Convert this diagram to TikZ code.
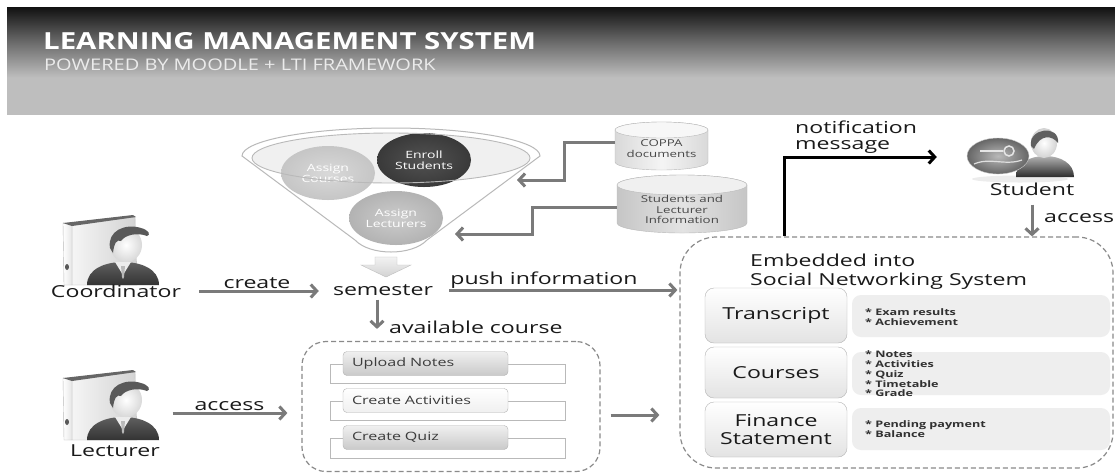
\documentclass[tikz,border=0pt]{standalone}
\usepackage{fontspec}
\setmainfont{Open Sans}[FakeStretch=1.4]
\newfontfamily\hdrfont{Open Sans}[FakeStretch=1.25]
\usetikzlibrary{arrows.meta,shapes.geometric,calc}

\definecolor{ink}{HTML}{1A1A1A}
\definecolor{conngray}{HTML}{7A7A7A}
\definecolor{dashgray}{HTML}{8A8A8A}
\definecolor{hdrdark}{HTML}{111111}
\definecolor{hdrmid}{HTML}{6E6E6E}
\definecolor{hdrlight}{HTML}{BEBEBE}

% header band: dark at the top, light grey towards the bottom
\pgfdeclareverticalshading{hdrshade}{100bp}{color(0bp)=(hdrlight); color(25bp)=(hdrlight); color(42bp)=(hdrlight); color(58bp)=(hdrmid); color(75bp)=(hdrdark); color(100bp)=(hdrdark)}

% binder with a person in front of it; #1,#2 = top-left corner of the binder
\newcommand{\binderperson}[2]{%
 \begin{scope}[shift={(#1,#2)}]
  \shade[left color=gray!8, right color=gray!35, draw=gray!55, line width=0.4pt] (9,9) -- (72,2) -- (74,70) -- (9,70) -- cycle;
  \shade[left color=white, right color=gray!20, draw=gray!55, line width=0.4pt] (0,8) -- (9,9) -- (9,70) -- (1,70) -- cycle;
  \fill[gray!80!black] (0,8) -- (70,0) -- (73,2) -- (9,11) -- cycle;
  \fill[gray!70!black] (4,52) ellipse[x radius=2pt, y radius=3pt];
  \shade[top color=gray!75!black, bottom color=gray!40!black] (24,70) .. controls (24,54) and (42,47) .. (60,47) .. controls (78,47) and (96,54) .. (96,70) -- cycle;
  \fill[gray!15] (52,47) -- (60,60) -- (68,47) -- cycle;
  \fill[gray!55] (58,51) -- (62,51) -- (61,62) -- (60,64) -- (59,62) -- cycle;
  \shade[inner color=white, outer color=gray!30] (63,30) ellipse[x radius=16pt, y radius=17pt];
  \fill[gray!70!black] (47,33) .. controls (44,16) and (62,8) .. (78,13) .. controls (86,15) and (88,20) .. (84,21) .. controls (74,17) and (62,20) .. (58,26) .. controls (54,24) and (51,28) .. (50,38) -- cycle;
 \end{scope}}

\begin{document}
\begin{tikzpicture}[x=1pt,y=-1pt,
  lab/.style={font=\fontsize{16.5}{20}\selectfont, text=ink, inner sep=0pt},
  conn/.style={draw=conngray, line width=3pt, -{Straight Barb[length=6pt,width=13pt]}},
  notif/.style={draw=black, line width=3pt, -{Straight Barb[length=6pt,width=13pt]}},
  dashbox/.style={draw=dashgray, line width=1.2pt, dash pattern=on 5pt off 3pt, rounded corners=24pt, inner sep=0pt},
  stepbtn/.style={draw=gray!60, rounded corners=4pt, font=\fontsize{11.5}{13}\selectfont, text=ink!85, inner ysep=0pt, inner xsep=9pt, minimum height=24pt, text width=147pt, align=left},
  bracket/.style={draw=gray!55, line width=0.8pt},
  rowbtn/.style={draw=gray!60, rounded corners=9pt, top color=white, bottom color=gray!22, font=\fontsize{16.5}{20}\selectfont, text=ink, align=center, minimum width=142pt, inner sep=0pt},
  panel/.style={fill=gray!13, rounded corners=9pt, minimum width=258pt, minimum height=42pt, inner sep=0pt},
  bullets/.style={font=\fontsize{9}{9.8}\selectfont\bfseries, text=ink!90, align=left, inner sep=0pt, anchor=west},
  circtext/.style={ellipse, minimum width=94pt, minimum height=54pt, inner sep=0pt, align=center, font=\fontsize{10}{11}\selectfont, text=white},
  cyltext/.style={font=\fontsize{9.5}{10.8}\selectfont, text=ink!80, align=center, inner sep=0pt},
  iconbox/.style={inner sep=0pt, minimum width=95pt, minimum height=70pt}]

\useasboundingbox (0,0) rectangle (1115,475);
\fill[white] (0,0) rectangle (1115,475);

% ---------- header ----------
\shade[shading=hdrshade] (7,7) rectangle (1115,114);
\node[anchor=base west, inner sep=0pt, text=white, font=\hdrfont\fontsize{23.5}{28}\selectfont\bfseries] (title) at (43,49) {LEARNING MANAGEMENT SYSTEM};
\node[anchor=base west, inner sep=0pt, text=white!92!black, font=\hdrfont\fontsize{16}{19}\selectfont] (subtitle) at (44,70) {POWERED BY MOODLE + LTI FRAMEWORK};

% ---------- funnel ----------
\draw[draw=gray!55, fill=white, line width=1pt] (242,156) arc[start angle=180, end angle=0, x radius=149pt, y radius=28pt] -- (427,240) .. controls (412,256) and (370,256) .. (355,240) -- cycle;
\fill[gray!12] (391,158) ellipse[x radius=139pt, y radius=25pt];
\node[circtext, shade, inner color=gray!30, outer color=gray!45] (acourses) at (328,173) {Assign\\Courses};
\node[circtext, shade, inner color=gray!65!black, outer color=gray!45!black] (enroll) at (424,160) {Enroll\\Students};
\node[circtext, shade, inner color=gray!40, outer color=gray!60] (alect) at (396,218) {Assign\\Lecturers};
\draw[gray!55, line width=0.9pt] (391,158) ellipse[x radius=139pt, y radius=25pt];
% block arrow out of the funnel
\draw[draw=gray!50, top color=gray!10, bottom color=gray!35] (375,257) -- (397,257) -- (397,265) -- (411,265) -- (386,277) -- (361,265) -- (375,265) -- cycle;

% ---------- data stores ----------
\draw[draw=gray!55, left color=gray!30, right color=gray!30, middle color=gray!8] (615,130) -- (615,162) arc[start angle=180, end angle=360, x radius=46.5pt, y radius=8pt] -- (708,130) arc[start angle=0, end angle=180, x radius=46.5pt, y radius=8pt] -- cycle;
\draw[draw=gray!55, fill=gray!6] (661.5,130) ellipse[x radius=46.5pt, y radius=8pt];
\node[cyltext, minimum width=93pt] (coppa) at (661.5,148.5) {COPPA\\documents};

\draw[draw=gray!55, left color=gray!45, right color=gray!45, middle color=gray!22] (617,185) -- (617,223) arc[start angle=180, end angle=360, x radius=65pt, y radius=10pt] -- (747,185) arc[start angle=0, end angle=180, x radius=65pt, y radius=10pt] -- cycle;
\draw[draw=gray!55, fill=gray!12] (682,185) ellipse[x radius=65pt, y radius=10pt];
\node[cyltext, minimum width=130pt] (stud) at (682,209.5) {Students and\\Lecturer\\Information};

\coordinate (fin1) at (517,180);
\coordinate (fin2) at (455,234);
\draw[conn] ([yshift=6pt]coppa.west) -- ++(-50,0) |- (fin1);
\draw[conn] ([yshift=2pt]stud.west) -- ++(-84,0) |- (fin2);

% ---------- actors ----------
\binderperson{63}{215}
\node[iconbox] (coordicon) at (110,250) {};
\node[lab] (coord) at (116,291) {Coordinator};

\binderperson{63}{370}
\node[iconbox] (lecticon) at (110,405) {};
\node[lab] (lect) at (115,451) {Lecturer};

% student icon
\fill[gray!15] (1020,179) ellipse[x radius=48pt, y radius=3.5pt];
\shade[top color=gray!60, bottom color=gray!35!black] (1016,177) .. controls (1016,163) and (1030,156) .. (1045,156) .. controls (1060,156) and (1074,163) .. (1074,177) -- cycle;
\shade[inner color=white, outer color=gray!35] (1044,143) ellipse[x radius=13pt, y radius=15pt];
\fill[gray!75!black] (1031,146) .. controls (1028,128) and (1060,124) .. (1058,143) .. controls (1052,135) and (1040,134) .. (1034,149) -- cycle;
\shade[inner color=gray!55, outer color=gray!80!black, draw=gray!40] (998,156) ellipse[x radius=31pt, y radius=18pt];
\draw[gray!20, line width=2pt] (980,151) -- (1003,151);
\draw[gray!20, line width=1.5pt] (1009,151) circle[radius=5pt];
\draw[gray!25, line width=1.2pt] (974,164) .. controls (990,157) and (1005,166) .. (1022,160);
\node[iconbox, minimum width=108pt, minimum height=44pt] (stuicon) at (1021,157) {};
\node[lab] (stulab) at (1032,189) {Student};

% ---------- semester ----------
\node[lab] (sem) at (383,290) {semester};

% ---------- course box ----------
\node[dashbox, minimum width=298pt, minimum height=130pt] (box1) at (451,406.5) {};

\draw[bracket] (343,364.5) -- (330,364.5) -- (330,383) -- (565,383) -- (565,364.5) -- (508,364.5);
\draw[bracket] (343,401) -- (330,401) -- (330,420) -- (565,420) -- (565,401) -- (508,401);
\draw[bracket] (343,438) -- (330,438) -- (330,458) -- (565,458) -- (565,438) -- (508,438);
\node[stepbtn, top color=gray!12, bottom color=gray!42] (upl) at (425.5,363.5) {Upload Notes};
\node[stepbtn, top color=white, bottom color=gray!12] (act) at (425.5,400.5) {Create Activities};
\node[stepbtn, top color=gray!12, bottom color=gray!42] (quiz) at (425.5,437.5) {Create Quiz};

% ---------- social networking box ----------
\node[dashbox, rounded corners=36pt, minimum width=433pt, minimum height=231pt] (sns) at (896.5,352.5) {};
\node[lab, anchor=west] (emb1) at (750,260) {Embedded into};
\node[lab, anchor=west] (emb2) at (750,281) {Social Networking System};

\node[panel] (transp) at (981,316) {};
\node[panel, minimum height=43pt] (coursp) at (981,373.5) {};
\node[panel] (finp) at (981,429) {};
\node[rowbtn, minimum height=55pt] (trans) at (776,315.5) {Transcript};
\node[rowbtn, minimum height=51pt] (cours) at (776,372.5) {Courses};
\node[rowbtn, minimum height=55pt, font=\fontsize{16.5}{17.5}\selectfont] (fin) at (776,429.5) {Finance\\Statement};
\node[bullets] (transb) at (865,317) {* Exam results\\* Achievement};
\node[bullets] (coursb) at (865,374) {* Notes\\* Activities\\* Quiz\\* Timetable\\* Grade};
\node[bullets] (finb) at (865,429.5) {* Pending payment\\* Balance};

% ---------- connectors ----------
\draw[conn, shorten <=18pt, shorten >=14pt] (coord.east) -- (coord.east -| sem.west) node[midway, above=1pt, lab] (createlab) {create};
\draw[conn, shorten <=16pt, shorten >=2pt] (sem.east) -- (sem.east -| sns.west) node[pos=0.45, above=0pt, lab] (pushlab) {push information};
\draw[conn, shorten <=4pt, shorten >=12pt] ([xshift=-6pt]sem.south) -- ([xshift=-6pt]sem.south |- box1.north);
\node[lab, anchor=west] (availlab) at (389,327) {available course};
\draw[conn, shorten <=15pt, shorten >=14pt] ([yshift=-8pt]lecticon.east) -- ([yshift=-8pt]lecticon.east -| box1.west) node[midway, above=1pt, lab] (acclab) {access};
\draw[conn, shorten <=10pt, shorten >=20pt] ([yshift=-8.5pt]box1.east) -- ([yshift=-8.5pt]box1.east -| sns.west);

\coordinate (nstart) at ($(sns.north west)+(105,0)$);
\draw[notif, shorten >=30pt] (nstart) |- (stuicon.west);
\node[lab, anchor=west] (notif1) at (795,127) {notification};
\node[lab, anchor=west] (notif2) at (795,147) {message};

\draw[conn, shorten <=9pt] (stulab.south) -- (stulab.south |- sns.north);
\node[lab, anchor=west] (stuacc) at (1044,218) {access};
\end{tikzpicture}
\end{document}
